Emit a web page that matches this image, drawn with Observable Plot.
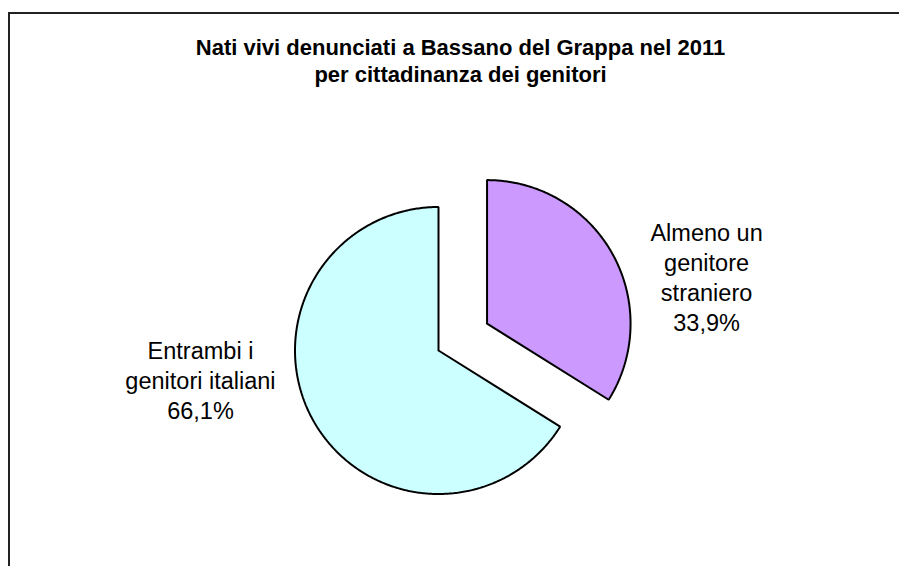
<!DOCTYPE html>
<html>
<head>
<meta charset="utf-8">
<script src="https://cdn.jsdelivr.net/npm/d3@7"></script>
<script src="https://cdn.jsdelivr.net/npm/@observablehq/plot@0.6"></script>
<style>
  html, body { margin: 0; padding: 0; background: #fff; }
  #wrap { position: relative; width: 899px; height: 566px; overflow: hidden; }
  #border { position: absolute; left: 8px; top: 12px; width: 920px; height: 620px;
            border: 2px solid #222; box-sizing: border-box; pointer-events: none; }
</style>
</head>
<body>
<div id="wrap"><div id="chart"></div><div id="border"></div></div>
<script>
// ---- data ----
const titleLines = ["Nati vivi denunciati a Bassano del Grappa nel 2011", "per cittadinanza dei genitori"];
const categories = ["Almeno un genitore straniero", "Entrambi i genitori italiani"];
const values = [33.9, 66.1];
const valueLabels = ["33,9%", "66,1%"];
const labelLines = [["Almeno un", "genitore", "straniero"], ["Entrambi i", "genitori italiani"]];
const colors = ["#CC99FF", "#CCFFFF"];

// ---- layout (pixels) ----
const W = 899, H = 566;
const layout = {
  cx: 438, cy: 350, r: 143.5,
  explode: [55.5, 0],
  labelDx: [94, -112.5],
  labelDy: [22.3, -40.3],
  labelFont: 23.5,
  titleFont: 22
};
const R = layout.r;

const pie = d3.pie().sort(null).value(d => d)(values);

// polygon vertices of each slice in unit-radius coordinates (y up)
const pts = [];
const labelAnchors = [];
pie.forEach((s, i) => {
  const mid = (s.startAngle + s.endAngle) / 2;
  const ex = layout.explode[i] / R;
  const ox = ex * Math.sin(mid), oy = ex * Math.cos(mid);
  const cat = categories[i];
  pts.push({cat, x: ox, y: oy});
  const n = Math.max(2, Math.ceil((s.endAngle - s.startAngle) / 0.01));
  for (let k = 0; k <= n; k++) {
    const a = s.startAngle + (s.endAngle - s.startAngle) * k / n;
    pts.push({cat, x: ox + Math.sin(a), y: oy + Math.cos(a)});
  }
  pts.push({cat, x: ox, y: oy});
  labelAnchors.push({
    cat,
    text: labelLines[i].join("\n") + "\n" + valueLabels[i],
    x: ox + Math.sin(mid), y: oy + Math.cos(mid),
    dx: layout.labelDx[i], dy: layout.labelDy[i]
  });
});

const font = "'Liberation Sans', Arial, Helvetica, sans-serif";

const plot = Plot.plot({
  width: W, height: H,
  margin: 0,
  style: {fontFamily: font, background: "white", overflow: "visible"},
  x: {type: "linear", domain: [-layout.cx / R, (W - layout.cx) / R], range: [0, W], axis: null},
  y: {type: "linear", domain: [-(H - layout.cy) / R, layout.cy / R], range: [H, 0], axis: null},
  color: {domain: categories, range: colors},
  marks: [
    Plot.line(pts, {x: "x", y: "y", z: "cat", fill: "cat", stroke: "black", strokeWidth: 2,
                    strokeLinejoin: "miter", curve: "linear"}),
    ...labelAnchors.map(l => Plot.text([l], {
      x: "x", y: "y", text: "text", dx: l.dx, dy: l.dy,
      fontSize: layout.labelFont, lineHeight: 1.27, lineAnchor: "middle",
      textAnchor: "middle", fill: "black"
    })),
    Plot.text([titleLines.join("\n")], {
      frameAnchor: "top", text: d => d, dx: 10.5, dy: 35.5,
      fontSize: layout.titleFont, fontWeight: "bold", lineHeight: 1.23,
      lineAnchor: "top", textAnchor: "middle", fill: "black"
    })
  ]
});
document.getElementById("chart").appendChild(plot);
</script>
</body>
</html>
